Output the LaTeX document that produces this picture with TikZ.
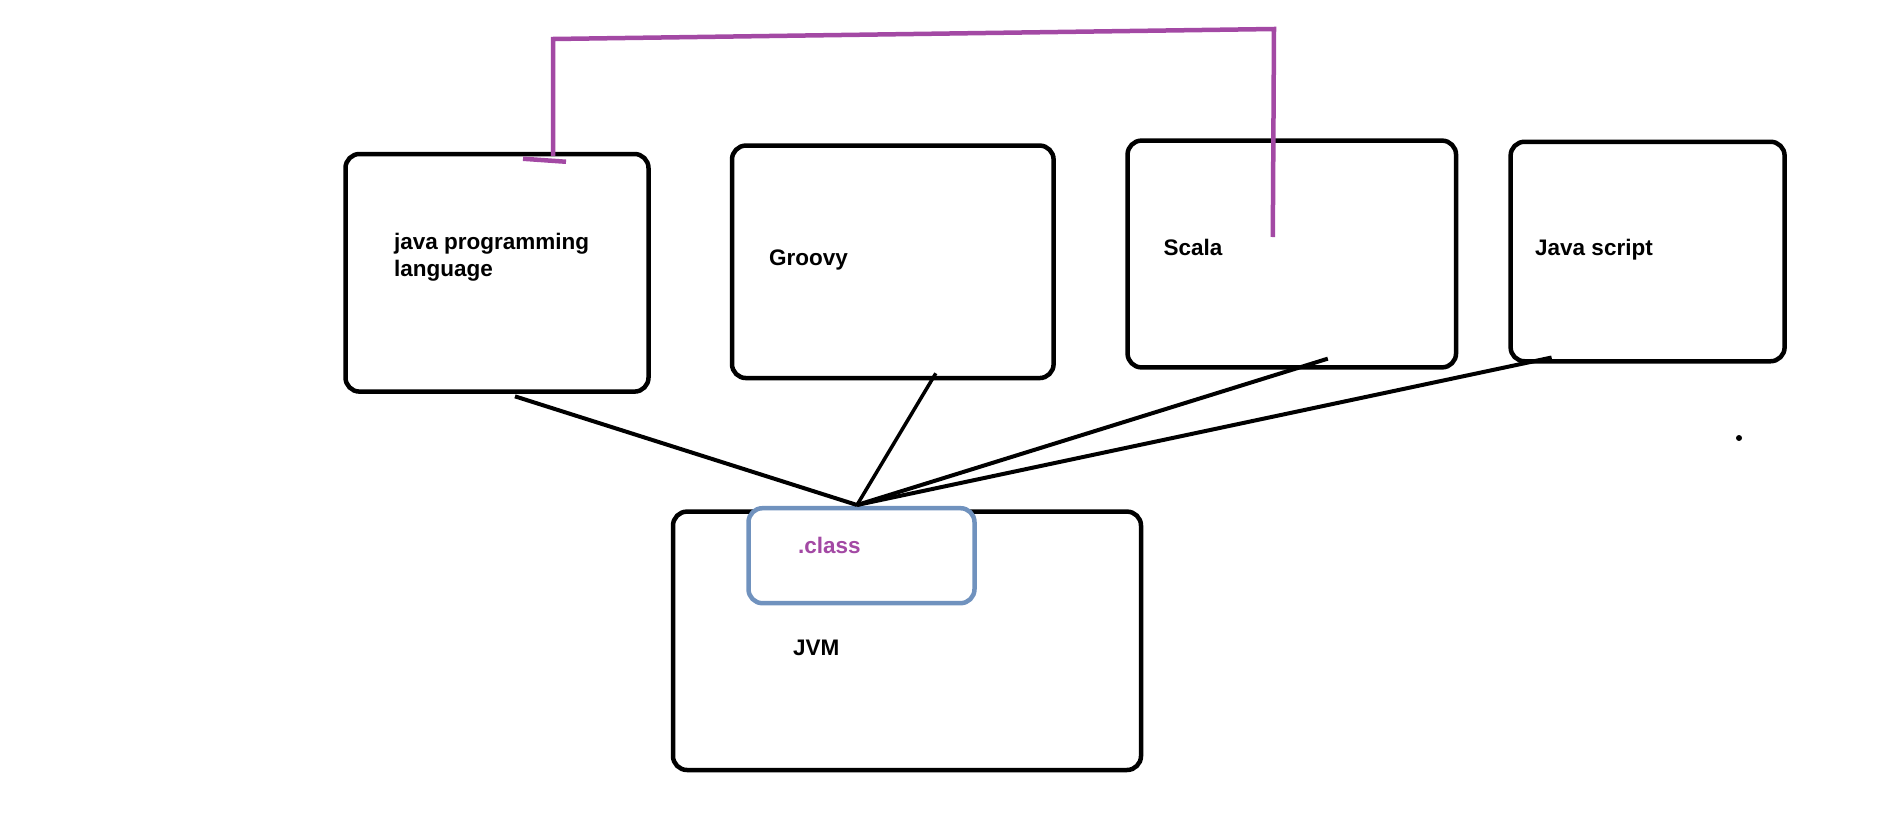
\documentclass[tikz,border=0pt]{standalone}
\usepackage{fontspec}
\setmainfont{Liberation Sans}
\definecolor{paintpurple}{RGB}{163,73,164}
\definecolor{paintblue}{RGB}{112,146,190}
\tikzset{
  langbox/.style={draw,line width=4.5pt,rounded corners=14pt,inner sep=0pt},
  boxtext/.style={anchor=base west,inner sep=0pt,font=\fontsize{22.5}{27}\selectfont\bfseries},
  wire/.style={line width=4pt},
  mark line/.style={paintpurple,line width=4.5pt},
}
\begin{document}
\begin{tikzpicture}[x=1pt,y=-1pt]
\useasboundingbox (0,0) rectangle (1901,822);
% language boxes
\node[langbox,minimum width=303pt,minimum height=237.6pt] (java) at (497,272.8) {};
\node[langbox,minimum width=321.6pt,minimum height=232.5pt] (groovy) at (892.8,261.8) {};
\node[langbox,minimum width=328.5pt,minimum height=226.8pt] (scala) at (1291.8,254) {};
\node[langbox,minimum width=274pt,minimum height=219.5pt] (script) at (1647.6,251.5) {};
\node[boxtext] (javatxt) at (394,249) {java programming};
\node[boxtext] (javatxtb) at (394,276) {language};
\node[boxtext] (groovytxt) at (769,265) {Groovy};
\node[boxtext] (scalatxt) at (1163.5,255) {Scala};
\node[boxtext] (scripttxt) at (1535,255) {Java script};
% jvm and .class
\node[langbox,minimum width=468pt,minimum height=258.4pt] (jvm) at (907,640.8) {};
\node[langbox,draw=paintblue,fill=white,minimum width=226pt,minimum height=95pt] (class) at (861.5,555.7) {};
\node[boxtext,text=paintpurple] (classtxt) at (798,553) {.class};
\node[boxtext] (jvmtxt) at (793,655) {JVM};
% links to the jvm
\coordinate (hub) at (857,505);
\draw[wire] ([xshift=18pt,yshift=-2.5pt]java.south) -- (hub);
\draw[wire,line width=3.5pt] ([xshift=43pt,yshift=7pt]groovy.south) -- (hub);
\draw[wire] ([xshift=36pt,yshift=11pt]scala.south) -- (hub);
\draw[wire] ([xshift=-96pt,yshift=6pt]script.south) -- (hub);
% purple link java - scala
\coordinate (bendleft) at (553,39);
\coordinate (bendright) at (1274,29);
\draw[mark line] ([xshift=56pt,yshift=-4pt]java.north) -- (bendleft) -- (bendright) -- ([xshift=-19pt,yshift=17pt]scala.center);
\draw[mark line] ([xshift=26pt,yshift=-7pt]java.north) -- ([xshift=69pt,yshift=-10pt]java.north);
\fill (1739,438) circle (3pt);
\end{tikzpicture}
\end{document}
